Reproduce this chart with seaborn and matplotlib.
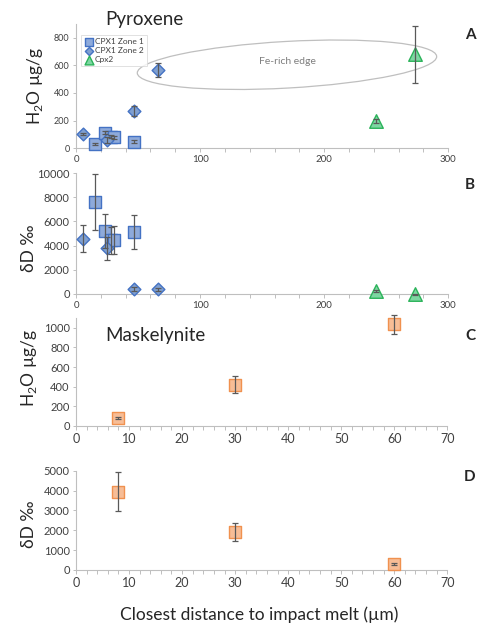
import matplotlib
matplotlib.use("Agg")
import matplotlib.pyplot as plt
import matplotlib.transforms as mtransforms
from matplotlib.patches import Ellipse
from matplotlib.ticker import MultipleLocator
import seaborn as sns

sns.set_style("white")
plt.rcParams["font.family"] = ["Lato", "DejaVu Sans"]
plt.rcParams["mathtext.fontset"] = "custom"
plt.rcParams["mathtext.rm"] = "Lato"

# pyroxene, CPX1 zone 1 (squares)
z1_dist = [15, 23, 28, 31, 47]
z1_h2o = [31, 113, 84, 80, 48]
z1_h2o_err = [10, 10, 10, 10, 10]
z1_dD = [7600, 5200, 4420, 4480, 5150]
z1_dD_err = [2350, 1400, 1150, 1150, 1420]

# pyroxene, CPX1 zone 2 (diamonds)
z2_dist = [6, 25, 47, 66]
z2_h2o = [104, 60, 272, 565]
z2_h2o_err = [10, 20, 35, 50]
z2_dD = [4570, 3770, 415, 365]
z2_dD_err = [1140, 950, 150, 120]

# Cpx2 (triangles)
cpx2_dist = [242, 273]
cpx2_h2o = [200, 680]
cpx2_h2o_err = [15, 205]
cpx2_dD = [230, -30]
cpx2_dD_err = [80, 40]

# maskelynite
mask_dist = [8, 30, 60]
mask_h2o = [80, 420, 1035]
mask_h2o_err = [10, 88, 95]
mask_dD = [3950, 1930, 317]
mask_dD_err = [990, 460, 60]

BLUE_FILL, BLUE_EDGE = "#8eaadb", "#4472c4"
DIA_FILL = "#7f9fd0"
GREEN_FILL, GREEN_EDGE = "#7ed6a2", "#2bb35a"
ORANGE_FILL, ORANGE_EDGE = "#f7bd96", "#f0914f"
ERR = "#595959"
W, H = 482, 624
SQ, DI, TRI = 85, 42, 95


def px_axes(left, right, top, bottom):
    return [left / W, 1 - bottom / H, (right - left) / W, (bottom - top) / H]


def style(ax, xmax, xmaj, xmin, ymax, ymaj, xfs, yfs):
    ax.set_xlim(0, xmax)
    ax.set_ylim(0, ymax)
    ax.xaxis.set_major_locator(MultipleLocator(xmaj))
    ax.xaxis.set_minor_locator(MultipleLocator(xmin))
    ax.yaxis.set_major_locator(MultipleLocator(ymaj))
    for s in ["top", "right"]:
        ax.spines[s].set_visible(False)
    for s in ["left", "bottom"]:
        ax.spines[s].set_color("#bfbfbf")
        ax.spines[s].set_linewidth(0.8)
    ax.tick_params(axis="x", which="both", direction="out", length=3, width=0.7,
                   color="#bfbfbf", labelsize=xfs, labelcolor="#404040", pad=2, bottom=True)
    ax.tick_params(axis="y", which="major", direction="out", length=2.5, width=0.7,
                   color="#bfbfbf", labelsize=yfs, labelcolor="#404040", pad=2, left=True)
    ax.grid(False)


def points(ax, x, y, err, marker, s, fill, edge, label=None):
    sns.scatterplot(x=x, y=y, marker=marker, s=s, color=fill, edgecolor=edge,
                    linewidth=1, ax=ax, label=label, clip_on=False, zorder=3)
    ax.errorbar(x, y, yerr=err, fmt="none", ecolor=ERR, elinewidth=0.9,
                capsize=2, capthick=0.9, zorder=4, clip_on=False)


fig = plt.figure(figsize=(W / 100, H / 100), dpi=100)
axA = fig.add_axes(px_axes(76, 448.3, 23.8, 148.3))
axB = fig.add_axes(px_axes(76, 448.3, 173.3, 293.7))
axC = fig.add_axes(px_axes(76, 447.3, 317.9, 426))
axD = fig.add_axes(px_axes(76, 447.3, 470.7, 570))

style(axA, 300, 100, 20, 900, 200, 7, 6.5)
style(axB, 300, 100, 20, 10000, 2000, 7, 8)
style(axC, 70, 10, 2, 1100, 200, 9, 8)
style(axD, 70, 10, 2, 5000, 1000, 9, 8)

# panel A
points(axA, z1_dist, z1_h2o, z1_h2o_err, "s", SQ, BLUE_FILL, BLUE_EDGE, "CPX1 Zone 1")
points(axA, z2_dist, z2_h2o, z2_h2o_err, "D", DI, DIA_FILL, BLUE_EDGE, "CPX1 Zone 2")
points(axA, cpx2_dist, cpx2_h2o, cpx2_h2o_err, "^", TRI, GREEN_FILL, GREEN_EDGE, "Cpx2")
leg = axA.legend(loc="upper left", bbox_to_anchor=(0.003, 0.945), fontsize=6,
                 frameon=True, fancybox=False, edgecolor="#d9d9d9", borderpad=0.35,
                 handletextpad=0.1, handlelength=1.2, labelspacing=0.25, markerscale=0.65)
leg.get_frame().set_linewidth(0.7)
for t in leg.get_texts():
    t.set_color("#404040")

# Fe-rich edge ellipse, tilted slightly in screen space
cx, cy = 170, 604
ell = Ellipse((cx, cy), 241.6, 337, fill=False, edgecolor="#bfbfbf", linewidth=0.9)
pc = axA.transData.transform((cx, cy))
ell.set_transform(axA.transData + mtransforms.Affine2D().rotate_deg_around(pc[0], pc[1], 3.2))
axA.add_patch(ell)
axA.text(cx, 627, "Fe-rich edge", ha="center", va="center", fontsize=7.5, color="#7f7f7f")

# panel B
points(axB, z1_dist, z1_dD, z1_dD_err, "s", SQ, BLUE_FILL, BLUE_EDGE)
points(axB, z2_dist, z2_dD, z2_dD_err, "D", DI, DIA_FILL, BLUE_EDGE)
points(axB, cpx2_dist, cpx2_dD, cpx2_dD_err, "^", TRI, GREEN_FILL, GREEN_EDGE)

# panels C, D
points(axC, mask_dist, mask_h2o, mask_h2o_err, "s", SQ, ORANGE_FILL, ORANGE_EDGE)
points(axD, mask_dist, mask_dD, mask_dD_err, "s", SQ, ORANGE_FILL, ORANGE_EDGE)

h2o_label = r"H$_\mathregular{2}$O µg/g"
axA.set_ylabel(h2o_label, fontsize=12.5)
axA.yaxis.set_label_coords(-0.083, 0.5)
axB.set_ylabel("δD ‰", fontsize=12.5)
axB.yaxis.set_label_coords(-0.105, 0.38)
axC.set_ylabel(h2o_label, fontsize=12.5)
axC.yaxis.set_label_coords(-0.1, 0.54)
axD.set_ylabel("δD ‰", fontsize=12.5)
axD.yaxis.set_label_coords(-0.105, 0.46)

fig.text(105 / W, 1 - 20 / H, "Pyroxene", fontsize=13.5, ha="left", va="center")
fig.text(105 / W, 1 - 336 / H, "Maskelynite", fontsize=13.5, ha="left", va="center")
for letter, ypx in [("A", 35), ("B", 185), ("C", 336), ("D", 477)]:
    fig.text(470 / W, 1 - ypx / H, letter, fontsize=11, fontweight="bold", ha="center", va="center")
fig.text(259 / W, 1 - 615 / H, "Closest distance to impact melt (µm)", fontsize=12.5,
         ha="center", va="center")

fig.savefig("out.png", dpi=100)
